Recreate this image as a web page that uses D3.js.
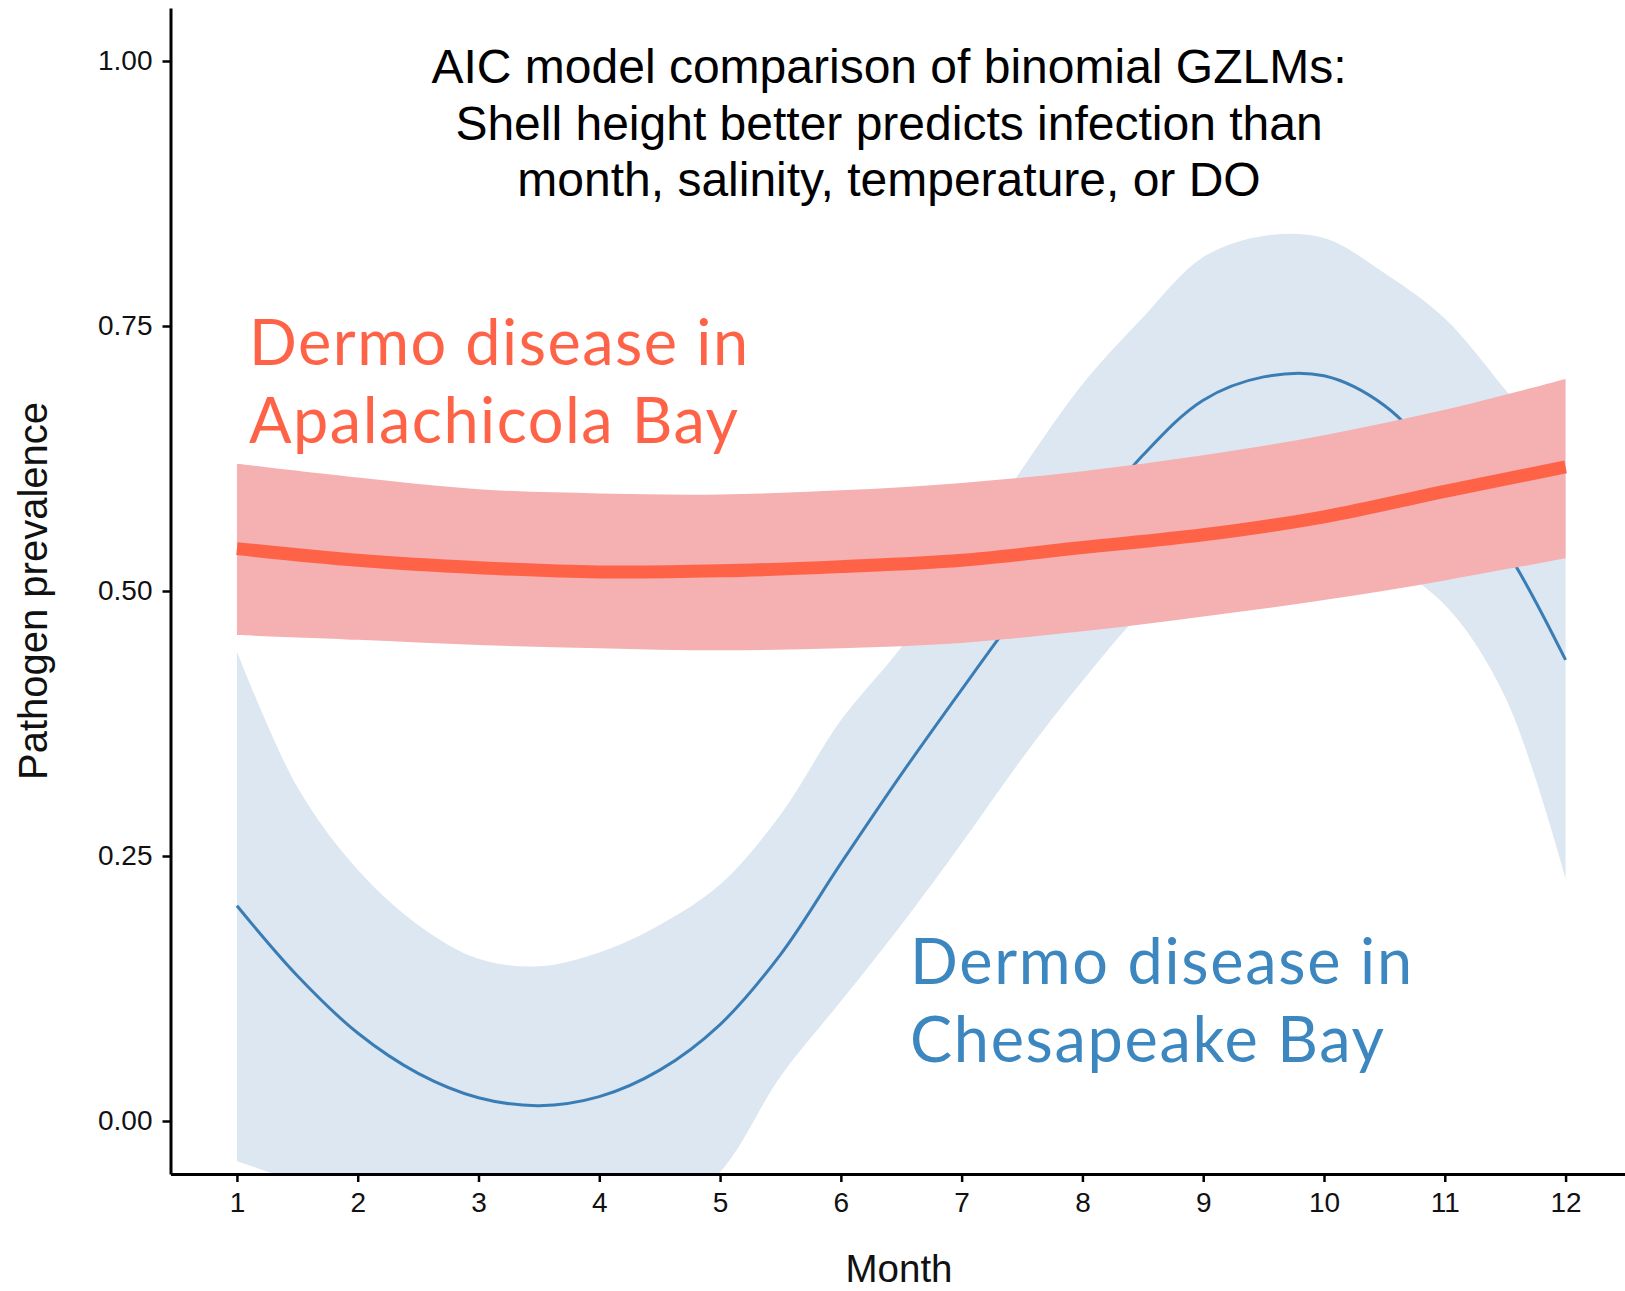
<!DOCTYPE html>
<html><head><meta charset="utf-8">
<script src="https://cdn.jsdelivr.net/npm/d3@7"></script>
<style>body{margin:0;background:#fff} svg{display:block}</style>
</head><body>
<svg id="c" width="1625" height="1291"></svg>
<script>
// ---- data ----
const chesMonths = [1,1.5,2,2.5,3,3.5,4,4.5,5,5.5,6,6.5,7,7.5,8,8.5,9,9.5,10,10.5,11,11.5,12];
const chesFit    = [0.203,0.137,0.083,0.045,0.022,0.0145,0.023,0.048,0.091,0.157,0.243,0.327,0.407,0.485,0.558,0.628,0.680,0.702,0.703,0.675,0.615,0.540,0.435];
const chesUpper  = [0.443,0.315,0.237,0.185,0.153,0.146,0.159,0.185,0.223,0.289,0.378,0.447,0.530,0.615,0.695,0.758,0.815,0.835,0.833,0.800,0.757,0.690,0.620];
const chesLower  = [-0.038,-0.058,-0.085,-0.110,-0.125,-0.130,-0.120,-0.090,-0.048,0.042,0.113,0.185,0.262,0.342,0.415,0.480,0.520,0.545,0.545,0.527,0.487,0.400,0.229];

const apalMonths = [1,2,3,4,5,6,7,8,9,10,11,12];
const apalFit    = [0.540,0.529,0.522,0.518,0.519,0.523,0.529,0.541,0.553,0.570,0.594,0.617];
const apalUpper  = [0.620,0.607,0.596,0.592,0.591,0.595,0.602,0.613,0.628,0.647,0.671,0.700];
const apalLower  = [0.4585,0.454,0.449,0.446,0.444,0.446,0.451,0.462,0.476,0.4915,0.510,0.531];

const xTicks = [1,2,3,4,5,6,7,8,9,10,11,12];
const yTicks = [0,0.25,0.5,0.75,1];

const titleLines = ["AIC model comparison of binomial GZLMs:",
                    "Shell height better predicts infection than",
                    "month, salinity, temperature, or DO"];
const apalLabel = ["Dermo disease in","Apalachicola Bay"];
const chesLabel = ["Dermo disease in","Chesapeake Bay"];

// ---- layout ----
const pLeft = 170.5, pRight = 1632, pTop = 8, pBottom = 1174;
const svg = d3.select("#c");
const x = d3.scaleLinear().domain([0.45, 12.55]).range([pLeft, pRight]);
const y = d3.scaleLinear().domain([-0.05, 1.05]).range([pBottom, pTop]);

svg.append("defs").append("clipPath").attr("id","panel")
  .append("rect").attr("x",pLeft).attr("y",pTop).attr("width",1625-pLeft).attr("height",pBottom-pTop);

const g = svg.append("g").attr("clip-path","url(#panel)");

const ches = chesMonths.map((m,i)=>({m, fit:chesFit[i], lo:chesLower[i], hi:chesUpper[i]}));
const apal = apalMonths.map((m,i)=>({m, fit:apalFit[i], lo:apalLower[i], hi:apalUpper[i]}));

const curve = d3.curveCatmullRom.alpha(0.5);
const area = d3.area().x(d=>x(d.m)).y0(d=>y(d.lo)).y1(d=>y(d.hi)).curve(curve);
const line = d3.line().x(d=>x(d.m)).y(d=>y(d.fit)).curve(curve);

g.append("path").datum(ches).attr("d",area).attr("fill","#dce7f2");
g.append("path").datum(ches).attr("d",line).attr("fill","none").attr("stroke","#3a7db5").attr("stroke-width",3);
g.append("path").datum(apal).attr("d",area).attr("fill","#f5b0b1");
g.append("path").datum(apal).attr("d",line).attr("fill","none").attr("stroke","#ff6347").attr("stroke-width",13);

// ---- axes ----
const tickFont = "'Liberation Sans', Arial, Helvetica, sans-serif";
const xAxis = svg.append("g").attr("transform",`translate(0,${pBottom})`)
  .call(d3.axisBottom(x).tickValues(xTicks).tickFormat(d3.format("d")).tickSize(8).tickSizeOuter(0).tickPadding(10));
const yAxis = svg.append("g").attr("transform",`translate(${pLeft},0)`)
  .call(d3.axisLeft(y).tickValues(yTicks).tickFormat(d3.format(".2f")).tickSize(8).tickSizeOuter(0).tickPadding(10));
[xAxis,yAxis].forEach(a=>{
  a.select(".domain").attr("stroke","#000").attr("stroke-width",3);
  a.selectAll(".tick line").attr("stroke","#000").attr("stroke-width",2.5);
  a.selectAll(".tick text").attr("fill","#111").style("font-family",tickFont).style("font-size","28px");
});

svg.append("text").attr("transform","translate(47,591) rotate(-90)")
  .attr("text-anchor","middle").style("font-family",tickFont).style("font-size","40px").attr("fill","#111")
  .text("Pathogen prevalence");
svg.append("text").attr("x",899).attr("y",1282)
  .attr("text-anchor","middle").style("font-family",tickFont).style("font-size","38.5px").attr("fill","#111")
  .text("Month");

// ---- title ----
svg.append("g").selectAll("text").data(titleLines).join("text")
  .attr("x",889).attr("y",(d,i)=>83+i*56.5)
  .attr("text-anchor","middle").style("font-family",tickFont).style("font-size","48px").attr("fill","#000")
  .text(d=>d);

// ---- labels ----
const labFont = "Lato, 'Noto Sans', sans-serif";
svg.append("g").selectAll("text").data(apalLabel).join("text")
  .attr("x",249).attr("y",(d,i)=>365+i*78.3)
  .style("font-family",labFont).style("font-size","63px").style("letter-spacing","1.5px").attr("fill","#ff6347")
  .text(d=>d);
svg.append("g").selectAll("text").data(chesLabel).join("text")
  .attr("x",910).attr("y",(d,i)=>983.5+i*78.3)
  .style("font-family",labFont).style("font-size","63px").style("letter-spacing","1.7px").attr("fill","#3c87bf")
  .text(d=>d);
</script>
</body></html>
